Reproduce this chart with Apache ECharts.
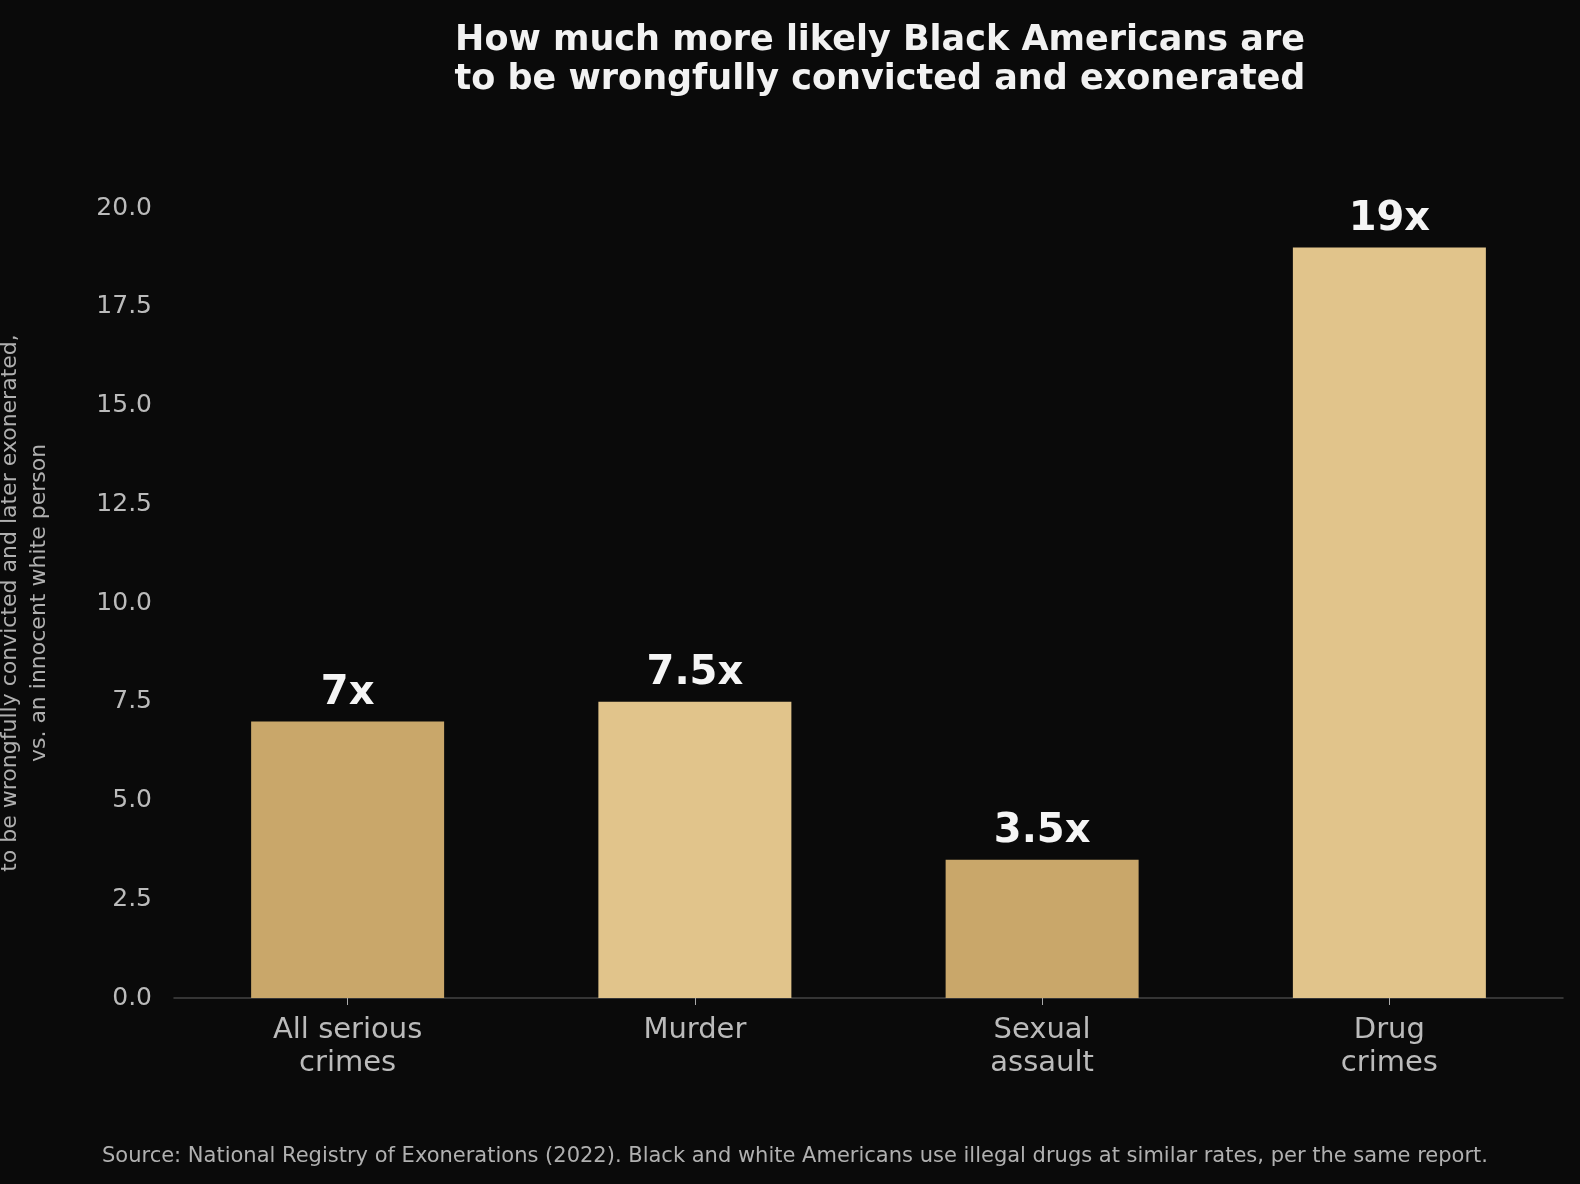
<!DOCTYPE html>
<html><head><meta charset="utf-8">
<script src="https://cdn.jsdelivr.net/npm/echarts@6/dist/echarts.min.js"></script>
<style>html,body{margin:0;background:#0a0a0a}#c{width:1580px;height:1184px}</style>
</head><body><div id="c"></div>
<script>
const categories = ['All serious\ncrimes', 'Murder', 'Sexual\nassault', 'Drug\ncrimes'];
const values = [7, 7.5, 3.5, 19];
const labels = ['7x', '7.5x', '3.5x', '19x'];
const barColors = ['#c9a76a', '#e1c48b', '#c9a76a', '#e1c48b'];
const F = 'DejaVu Sans';
const chart = echarts.init(document.getElementById('c'));
chart.setOption({
  backgroundColor: '#0a0a0a',
  animation: false,
  title: [{
    text: 'How much more likely Black Americans are\nto be wrongfully convicted and exonerated',
    left: 875, top: 16, textAlign: 'center',
    textStyle: {color: '#f2f2f2', fontFamily: F, fontWeight: 'bold', fontSize: 35, lineHeight: 39}
  }, {
    text: 'Source: National Registry of Exonerations (2022). Black and white Americans use illegal drugs at similar rates, per the same report.',
    left: 790, top: 1141, textAlign: 'center',
    textStyle: {color: '#b0b0b0', fontFamily: F, fontWeight: 'normal', fontSize: 21}
  }],
  grid: {left: 174, right: 17, top: 208, bottom: 186, outerBoundsMode: 'none'},
  xAxis: {
    type: 'category', data: categories,
    axisLine: {show: true, lineStyle: {color: '#444', width: 1.5}},
    axisTick: {show: true, alignWithLabel: true, length: 7, lineStyle: {color: '#aaa'}},
    axisLabel: {color: '#bbbbbb', fontFamily: F, fontSize: 29, lineHeight: 33, margin: 16}
  },
  yAxis: {
    type: 'value', min: 0, max: 20, interval: 2.5,
    splitLine: {show: false}, axisLine: {show: false},
    axisTick: {show: false},
    axisLabel: {color: '#bbbbbb', fontFamily: F, fontSize: 25, margin: 22, formatter: v => v.toFixed(1)},
    name: 'How many times more likely an innocent Black person is\nto be wrongfully convicted and later exonerated,\nvs. an innocent white person',
    nameLocation: 'middle', nameGap: 120, nameRotate: 90,
    nameTextStyle: {color: '#b0b0b0', fontFamily: F, fontSize: 22, lineHeight: 29}
  },
  series: [{
    type: 'bar', barWidth: 193,
    data: values.map((v, i) => ({value: v, itemStyle: {color: barColors[i]}})),
    label: {show: true, position: 'top', distance: 8, color: '#f5f5f5', fontFamily: F, fontWeight: 'bold', fontSize: 40,
      formatter: p => labels[p.dataIndex]}
  }]
});
</script></body></html>
